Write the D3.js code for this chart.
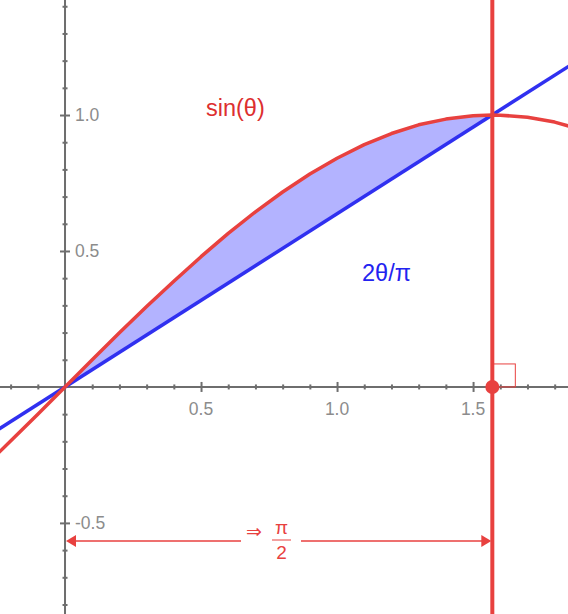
<!DOCTYPE html>
<html>
<head>
<meta charset="utf-8">
<script src="https://cdn.jsdelivr.net/npm/d3@7"></script>
<style>
  body { margin: 0; background: #fff; }
  svg { display: block; font-family: "Liberation Sans", Arial, Helvetica, sans-serif; }
</style>
</head>
<body>
<svg width="568" height="614"></svg>
<script>
// sampled sin(theta) curve, as drawn (step 0.1 plus the peak)
var thetaVals = [-0.3, -0.2, -0.1, 0, 0.1, 0.2, 0.3, 0.4, 0.5, 0.6, 0.7, 0.8, 0.9, 1.0, 1.1, 1.2, 1.3, 1.4, 1.5, 1.5708, 1.6, 1.7, 1.8, 1.9];
var sinVals   = [-0.296, -0.199, -0.100, 0, 0.100, 0.199, 0.296, 0.389, 0.479, 0.565, 0.644, 0.717, 0.783, 0.841, 0.891, 0.932, 0.964, 0.985, 0.997, 1.000, 0.9996, 0.992, 0.974, 0.946];

// straight line 2θ/π
var chordTheta = [-0.3, 1.9];
var chordVals  = [-0.191, 1.210];

var halfPi = 1.5708;

var xMinor = [-0.2, -0.1, 0.1, 0.2, 0.3, 0.4, 0.6, 0.7, 0.8, 0.9, 1.1, 1.2, 1.3, 1.4, 1.6, 1.7, 1.8];
var xMajor = [0.5, 1.0, 1.5];
var xLabels = ["0.5", "1.0", "1.5"];
var yMinor = [-0.8, -0.7, -0.6, -0.4, -0.3, -0.2, -0.1, 0.1, 0.2, 0.3, 0.4, 0.6, 0.7, 0.8, 0.9, 1.1, 1.2, 1.3, 1.4];
var yMajor = [-0.5, 0.5, 1.0];
var yLabels = ["-0.5", "0.5", "1.0"];

var svg = d3.select("svg"),
    width = +svg.attr("width"),
    height = +svg.attr("height");

var x = d3.scaleLinear().domain([-0.239, 1.849]).range([0, width]);
var y = d3.scaleLinear().domain([-0.835, 1.423]).range([height, 0]);

var red = "#e8413f", blue = "#3030f0", grey = "#6e6e6e";

// axes
function crossAxis(axis, g, size, horizontal) {
    g.call(axis);
    g.select(".domain").remove();
    g.selectAll(".tick line")
        .attr("stroke", grey).attr("stroke-width", 2)
        .attr(horizontal ? "y1" : "x1", -size)
        .attr(horizontal ? "y2" : "x2", size);
    g.selectAll(".tick text").remove();
}

svg.append("line")
    .attr("x1", 0).attr("x2", width)
    .attr("y1", y(0)).attr("y2", y(0))
    .attr("stroke", grey).attr("stroke-width", 2);
svg.append("line")
    .attr("x1", x(0)).attr("x2", x(0))
    .attr("y1", 0).attr("y2", height)
    .attr("stroke", grey).attr("stroke-width", 2);

crossAxis(d3.axisBottom(x).tickValues(xMinor),
    svg.append("g").attr("transform", "translate(0," + y(0) + ")"), 2.5, true);
crossAxis(d3.axisBottom(x).tickValues(xMajor),
    svg.append("g").attr("transform", "translate(0," + y(0) + ")"), 5, true);
crossAxis(d3.axisLeft(y).tickValues(yMinor),
    svg.append("g").attr("transform", "translate(" + x(0) + ",0)"), 2.5, false);
crossAxis(d3.axisLeft(y).tickValues(yMajor),
    svg.append("g").attr("transform", "translate(" + x(0) + ",0)"), 5, false);

svg.selectAll(".xlab").data(xMajor).enter().append("text")
    .attr("x", d => x(d)).attr("y", y(0) + 23)
    .attr("text-anchor", "middle").attr("dominant-baseline", "middle")
    .attr("font-size", 17.5).attr("fill", "#8c8c8c")
    .text((d, i) => xLabels[i]);

svg.selectAll(".ylab").data(yMajor).enter().append("text")
    .attr("x", x(0) + 10).attr("y", d => y(d) + 1)
    .attr("dominant-baseline", "middle")
    .attr("font-size", 17.5).attr("fill", "#8c8c8c")
    .text((d, i) => yLabels[i]);

// shaded region between sin and chord, 0..pi/2
var pts = thetaVals.map((t, i) => ({t: t, s: sinVals[i]}))
    .filter(d => d.t >= 0 && d.t <= halfPi);
var chordAt = t => chordVals[0] + (t - chordTheta[0]) * (chordVals[1] - chordVals[0]) / (chordTheta[1] - chordTheta[0]);
svg.append("path")
    .datum(pts)
    .attr("fill", "#b3b3ff")
    .attr("d", d3.area().x(d => x(d.t)).y0(d => y(chordAt(d.t))).y1(d => y(d.s)));

// chord
svg.append("path")
    .datum(chordTheta.map((t, i) => [t, chordVals[i]]))
    .attr("fill", "none").attr("stroke", blue).attr("stroke-width", 3.5)
    .attr("d", d3.line().x(d => x(d[0])).y(d => y(d[1])));

// sine
svg.append("path")
    .datum(thetaVals.map((t, i) => [t, sinVals[i]]))
    .attr("fill", "none").attr("stroke", red).attr("stroke-width", 3.5)
    .attr("stroke-linejoin", "round")
    .attr("d", d3.line().x(d => x(d[0])).y(d => y(d[1])));

// vertical line at pi/2
svg.append("line")
    .attr("x1", x(halfPi)).attr("x2", x(halfPi))
    .attr("y1", 0).attr("y2", height)
    .attr("stroke", red).attr("stroke-width", 4);

// right-angle marker
svg.append("rect")
    .attr("x", x(halfPi)).attr("y", y(0) - 23)
    .attr("width", 23).attr("height", 23)
    .attr("fill", "none").attr("stroke", red).attr("stroke-width", 1);

svg.append("circle")
    .attr("cx", x(halfPi)).attr("cy", y(0)).attr("r", 7)
    .attr("fill", red);

// dimension arrow
var ay = 541;
svg.append("line").attr("x1", x(0) + 8).attr("x2", 241).attr("y1", ay).attr("y2", ay)
    .attr("stroke", red).attr("stroke-width", 1.5);
svg.append("line").attr("x1", 301).attr("x2", x(halfPi) - 8).attr("y1", ay).attr("y2", ay)
    .attr("stroke", red).attr("stroke-width", 1.5);
svg.append("path")
    .attr("d", "M" + (x(0) + 1) + "," + ay + "l10,-6l0,12z").attr("fill", red);
svg.append("path")
    .attr("d", "M" + (x(halfPi) - 1) + "," + ay + "l-10,-6l0,12z").attr("fill", red);

svg.append("text").attr("x", 254).attr("y", 538)
    .attr("text-anchor", "middle").attr("font-size", 19).attr("fill", red)
    .attr("font-family", "DejaVu Sans")
    .text("⇒");
svg.append("text").attr("x", 281.5).attr("y", 534)
    .attr("text-anchor", "middle").attr("font-size", 19).attr("fill", red)
    .text("π");
svg.append("line").attr("x1", 272).attr("x2", 291).attr("y1", 540).attr("y2", 540)
    .attr("stroke", red).attr("stroke-width", 1);
svg.append("text").attr("x", 281.5).attr("y", 559)
    .attr("text-anchor", "middle").attr("font-size", 19).attr("fill", red)
    .text("2");

// curve labels
svg.append("text").attr("x", 206).attr("y", 116)
    .attr("font-size", 23.5).attr("fill", "#dd2f2f")
    .text("sin(θ)");
svg.append("text").attr("x", 362).attr("y", 281)
    .attr("font-size", 23.5).attr("fill", "#2323f0")
    .text("2θ/π");
</script>
</body>
</html>
